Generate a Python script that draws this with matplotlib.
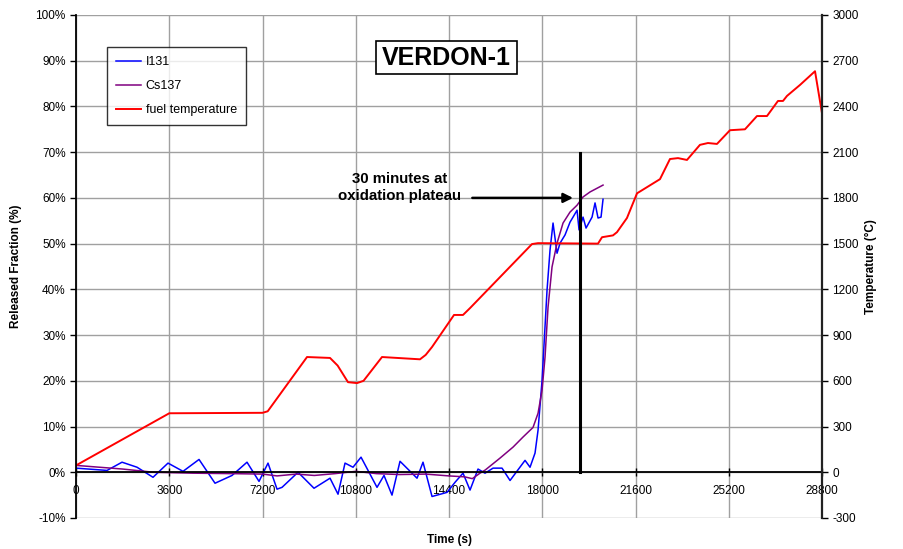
import matplotlib.pyplot as plt
from matplotlib.patches import Rectangle
import numpy as np

plt.rcParams['font.family'] = ['Liberation Sans', 'DejaVu Sans']
plt.rcParams['axes.unicode_minus'] = False

# time (s), released fraction (%)
i131_t = [0, 1197, 1776, 2355, 2972, 3551, 4131, 4749, 5366, 6022, 6601, 7065, 7412,
          7760, 7953, 8571, 9188, 9806, 10115, 10385, 10694, 11003, 11620, 11890, 12199,
          12508, 13165, 13396, 13744, 14323, 14632, 14940, 15211, 15520, 15790, 16100,
          16447, 16756, 17335, 17528, 17721, 17837, 17991, 18184, 18300, 18416, 18570,
          18686, 18879, 19072, 19188, 19343, 19420, 19574, 19690, 19922, 20037, 20153,
          20269, 20346]
i131_v = [0.9, 0.4, 2.2, 1.1, -1.1, 2.0, 0.2, 2.8, -2.4, -0.7, 2.2, -2.0, 2.0,
          -3.7, -3.3, 0.0, -3.5, -1.3, -4.8, 2.0, 1.1, 3.3, -3.3, -0.7, -5.0,
          2.4, -1.3, 2.2, -5.3, -4.4, -2.2, -0.2, -3.9, 0.7, -0.2, 0.9,
          0.9, -1.8, 2.6, 1.1, 4.2, 9.2, 20.0, 39.8, 48.6, 54.5, 47.9,
          50.1, 51.9, 54.7, 55.8, 57.3, 53.0, 55.8, 53.4, 55.8, 58.9, 55.6,
          55.8, 59.7]

cs137_t = [0, 900, 1800, 3000, 4500, 6000, 7200, 7760, 8500, 9200, 10000, 10800,
           11600, 12500, 13500, 14400, 15000, 15300, 15597, 15800, 16370, 16872,
           17257, 17643, 17837, 17991, 18107, 18223, 18377, 18570, 18802, 19072,
           19343, 19574, 19844, 20346]
cs137_v = [1.5, 1.1, 0.7, 0.0, -0.2, -0.3, -0.4, -0.8, -0.4, -0.7, -0.3, 0.2,
           -0.3, -0.5, -0.4, -0.8, -1.0, -1.4, -0.2, 0.5, 3.1, 5.5,
           7.7, 9.8, 12.9, 17.9, 25.2, 36.1, 44.9, 50.1, 54.5, 56.9,
           58.4, 60.2, 61.3, 62.8]

# time (s), fuel temperature (°C)
fuel_t = [0, 3600, 7200, 7400, 8918, 9806, 10100, 10500, 10848, 11100, 11813, 13280,
          13500, 13745, 14593, 14940, 15211, 17603, 17835, 20152, 20307, 20730,
          20884, 21270, 21658, 22545, 22930, 23240, 23587, 24088, 24397, 24745,
          25247, 25826, 26290, 26676, 27100, 27294, 27448, 27950, 28530, 28800]
fuel_T = [45, 387, 390, 400, 756, 750, 700, 591, 585, 600, 756, 741,
          770, 822, 1032, 1032, 1077, 1497, 1503, 1500, 1542, 1554,
          1575, 1668, 1830, 1923, 2055, 2061, 2049, 2148, 2160, 2154,
          2244, 2250, 2337, 2337, 2436, 2436, 2469, 2541, 2631, 2355]

plateau_t = 19458
plateau_top = 69.8

fig, ax = plt.subplots(figsize=(9.04, 5.49), dpi=100)
fig.subplots_adjust(left=0.0841, right=0.9093, bottom=0.0565, top=0.9727)
ax2 = ax.twinx()

grid_c = '#A0A0A0'
ax.set_xlim(0, 28800)
ax.set_ylim(-10, 100)
ax2.set_ylim(-300, 3000)
ax.set_xticks(np.arange(0, 28801, 3600))
ax.set_yticks(np.arange(-10, 101, 10))
ax2.set_yticks(np.arange(-300, 3001, 300))
ax.set_yticklabels([f'{v}%' for v in range(-10, 101, 10)])
ax.grid(True, color=grid_c, linewidth=1.0)
ax.set_axisbelow(True)

ax.spines['bottom'].set_position(('data', 0))
for sp in ('top', 'left', 'right'):
    ax.spines[sp].set_visible(False)
for sp in ('top', 'bottom'):
    ax2.spines[sp].set_visible(False)
ax2.spines['left'].set_color('black')
ax2.spines['left'].set_linewidth(1.3)
ax2.spines['right'].set_color('#222222')
ax2.spines['right'].set_linewidth(1.6)
ax.spines['bottom'].set_color('black')
ax.spines['bottom'].set_linewidth(1.3)

ax.tick_params(axis='both', labelsize=8.5, length=4, width=1, color='black')
ax.tick_params(axis='x', direction='inout', length=6, pad=6)
ax2.tick_params(axis='y', labelsize=8.5, length=4, width=1)

l1, = ax.plot(i131_t, i131_v, color='#0000FF', lw=1.1, label='I131')
l2, = ax.plot(cs137_t, cs137_v, color='#800080', lw=1.1, label='Cs137')
l3, = ax2.plot(fuel_t, fuel_T, color='#FF0000', lw=1.4, label='fuel temperature')

ax2.plot([plateau_t, plateau_t], [0, plateau_top * 30], color='black', lw=2.2)
ax2.annotate('', xy=(19188, 1800), xytext=(15300, 1800),
             arrowprops=dict(arrowstyle='-|>', color='black', lw=1.8,
                             mutation_scale=14, shrinkA=0, shrinkB=0))
ax2.text(12500, 1868, '30 minutes at\noxidation plateau', ha='center', va='center',
         fontsize=10.8, fontweight='bold', linespacing=1.2)

# title with its own box
fig.patches.append(Rectangle((376 / 904, 1 - 74 / 549), 141 / 904, 33 / 549,
                             transform=fig.transFigure, facecolor='white',
                             edgecolor='black', lw=1.2, zorder=5))
fig.text(446.5 / 904, 1 - 58 / 549, 'VERDON-1', ha='center', va='center',
         fontsize=18, fontweight='bold', zorder=6)

leg = ax2.legend(handles=[l1, l2, l3], loc='upper left', bbox_to_anchor=(0.033, 0.948),
                 fontsize=9, frameon=True, fancybox=False, edgecolor='black',
                 handlelength=2.0, labelspacing=0.95, borderpad=0.7, handletextpad=0.4)
leg.get_frame().set_linewidth(1.0)

ax.set_xlabel('Time (s)', fontsize=8.5, fontweight='bold')
ax.xaxis.set_label_coords(0.5, -0.031)
ax.set_ylabel('Released Fraction (%)', fontsize=8.5, fontweight='bold')
ax.yaxis.set_label_coords(-0.0724, 0.5)
ax2.set_ylabel('Temperature (°C)', fontsize=8.5, fontweight='bold')
ax2.yaxis.set_label_coords(1.058, 0.5)

fig.savefig('out.png', dpi=100)
